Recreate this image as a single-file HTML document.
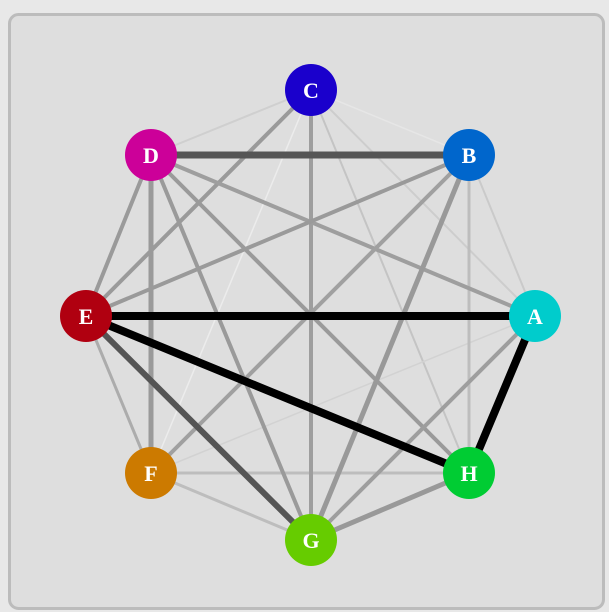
<!DOCTYPE html>
<html><head><meta charset="utf-8"><style>
html,body{margin:0;padding:0;background:#e8e8e8;width:609px;height:612px;overflow:hidden}
svg{position:absolute;left:0;top:0}
</style></head><body>
<svg width="609" height="612" viewBox="0 0 609 612">
<rect x="9.5" y="14.5" width="594" height="594" rx="9" fill="#dedede" stroke="#bcbcbc" stroke-width="3"/>
<g stroke-linecap="butt">
<line x1="311" y1="90" x2="151" y2="155" stroke="#cfcfcf" stroke-width="2"/>
<line x1="311" y1="90" x2="469" y2="155" stroke="#e6e6e6" stroke-width="1.5"/>
<line x1="311" y1="90" x2="151" y2="473" stroke="#ececec" stroke-width="1.5"/>
<line x1="311" y1="90" x2="469" y2="473" stroke="#c4c4c4" stroke-width="2"/>
<line x1="311" y1="90" x2="535" y2="316" stroke="#cdcdcd" stroke-width="2"/>
<line x1="151" y1="473" x2="535" y2="316" stroke="#d2d2d2" stroke-width="1.5"/>
<line x1="469" y1="155" x2="535" y2="316" stroke="#cacaca" stroke-width="2"/>
<line x1="469" y1="155" x2="469" y2="473" stroke="#bdbdbd" stroke-width="3"/>
<line x1="151" y1="473" x2="469" y2="473" stroke="#bdbdbd" stroke-width="3"/>
<line x1="151" y1="473" x2="311" y2="540" stroke="#bdbdbd" stroke-width="3"/>
<line x1="86" y1="316" x2="151" y2="473" stroke="#acacac" stroke-width="3"/>
<line x1="311" y1="90" x2="86" y2="316" stroke="#9a9a9a" stroke-width="4"/>
<line x1="311" y1="90" x2="311" y2="540" stroke="#9e9e9e" stroke-width="4"/>
<line x1="151" y1="155" x2="86" y2="316" stroke="#9a9a9a" stroke-width="4"/>
<line x1="151" y1="155" x2="151" y2="473" stroke="#9a9a9a" stroke-width="5"/>
<line x1="151" y1="155" x2="311" y2="540" stroke="#9a9a9a" stroke-width="4"/>
<line x1="151" y1="155" x2="469" y2="473" stroke="#9a9a9a" stroke-width="4"/>
<line x1="151" y1="155" x2="535" y2="316" stroke="#9e9e9e" stroke-width="4"/>
<line x1="469" y1="155" x2="86" y2="316" stroke="#9a9a9a" stroke-width="4"/>
<line x1="469" y1="155" x2="151" y2="473" stroke="#a0a0a0" stroke-width="4"/>
<line x1="469" y1="155" x2="311" y2="540" stroke="#999" stroke-width="5"/>
<line x1="535" y1="316" x2="311" y2="540" stroke="#9e9e9e" stroke-width="4"/>
<line x1="469" y1="473" x2="311" y2="540" stroke="#999" stroke-width="5"/>
<line x1="151" y1="155" x2="469" y2="155" stroke="#555" stroke-width="7"/>
<line x1="86" y1="316" x2="311" y2="540" stroke="#555" stroke-width="6"/>
<line x1="86" y1="316" x2="535" y2="316" stroke="#000" stroke-width="8"/>
<line x1="86" y1="316" x2="469" y2="473" stroke="#000" stroke-width="8"/>
<line x1="535" y1="316" x2="469" y2="473" stroke="#000" stroke-width="8"/>
</g>
<g font-family="'Liberation Serif',serif" font-weight="bold" font-size="22" fill="#fff" text-anchor="middle">
<circle cx="311" cy="90" r="26" fill="#1a00cc"/><text x="311" y="98">C</text>
<circle cx="469" cy="155" r="26" fill="#0066cc"/><text x="469" y="163">B</text>
<circle cx="535" cy="316" r="26" fill="#00cccc"/><text x="535" y="324">A</text>
<circle cx="469" cy="473" r="26" fill="#00cc33"/><text x="469" y="481">H</text>
<circle cx="311" cy="540" r="26" fill="#66cc00"/><text x="311" y="548">G</text>
<circle cx="151" cy="473" r="26" fill="#cc7a00"/><text x="151" y="481">F</text>
<circle cx="86" cy="316" r="26" fill="#b00010"/><text x="86" y="324">E</text>
<circle cx="151" cy="155" r="26" fill="#cc0099"/><text x="151" y="163">D</text>
</g>
</svg>
</body></html>
